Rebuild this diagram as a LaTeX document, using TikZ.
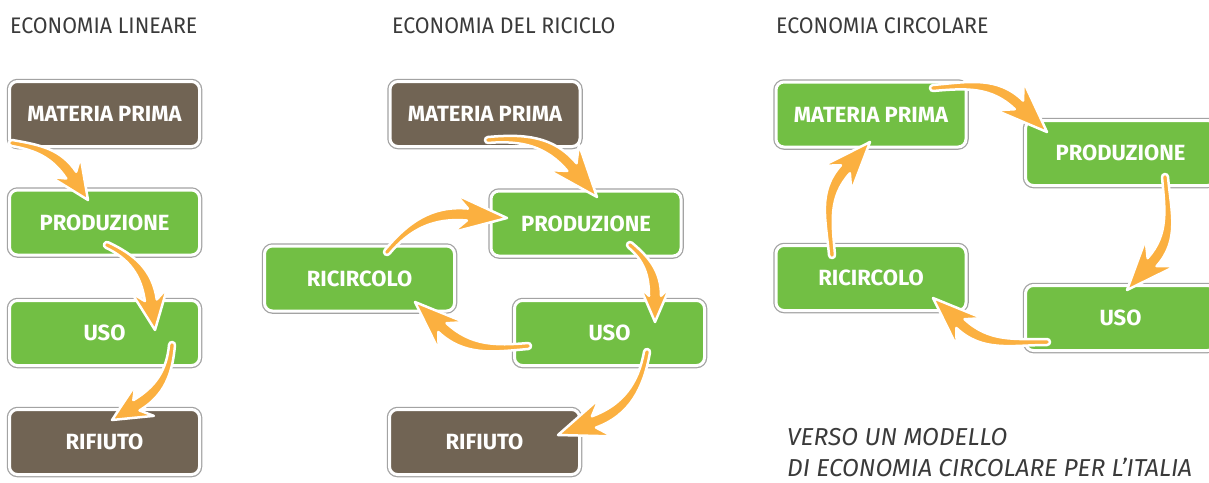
\documentclass[tikz,border=0pt]{standalone}
\usepackage{fontspec}
\setmainfont{Fira Sans}
\newfontfamily\condfont[FakeStretch=0.95]{Fira Sans}
\usetikzlibrary{calc}

\definecolor{mudbrown}{HTML}{716454}
\definecolor{leafgreen}{HTML}{72BF44}
\definecolor{flowamber}{HTML}{FBB040}
\definecolor{rimgray}{HTML}{A3A3A3}
\definecolor{inkgray}{HTML}{3A3A3A}

\tikzset{
  stage/.style={rectangle, rounded corners=8pt, minimum width=190pt, minimum height=65pt,
    draw=white, line width=3pt, text=white, inner sep=0pt,
    font=\bfseries\fontsize{22}{26}\selectfont,
    preaction={draw=rimgray, line width=5.5pt}},
  rawstage/.style={stage, fill=mudbrown},
  usestage/.style={stage, fill=leafgreen},
  heading/.style={anchor=base west, inner sep=0pt, text=inkgray, font=\condfont\fontsize{22.5}{26}\selectfont},
  note/.style={anchor=base west, inner sep=0pt, text=inkgray, font=\itshape\fontsize{24.5}{30}\selectfont},
  flowline/.style={fill=flowamber, draw=white, line width=2.5pt, line join=round}
}

% tapered arrow: start node, offset, end node, offset, out, in, head length, head half width
\newcommand{\flowarrow}[8]{%
  \coordinate (fs) at ($(#1)+(#2)$);
  \coordinate (ft) at ($(#3)+(#4)$);
  \coordinate (fb) at ($(ft)+(#6:0.75*#7)$);
  \path[flowline] ($(fs)+(#5+90:3)$) to[out=#5,in=#6] ($(fb)+(#6-90:6)$)
    -- ($(ft)+(#6:#7)+(#6-90:#8)$) -- (ft)
    -- ($(ft)+(#6:#7)+(#6+90:#8)$) -- ($(fb)+(#6+90:6)$)
    to[out=#6,in=#5] ($(fs)+(#5-90:3)$)
    arc[start angle=#5-90, delta angle=-180, radius=3] -- cycle;}

\begin{document}
\begin{tikzpicture}[x=1pt,y=1pt]
\useasboundingbox (0,0) rectangle (1209,-482);

% headings
\node[heading] (hlin) at (10,-33) {ECONOMIA LINEARE};
\node[heading] (hric) at (392,-33) {ECONOMIA DEL RICICLO};
\node[heading] (hcir) at (776,-33) {ECONOMIA CIRCOLARE};

% linear economy
\node[rawstage] (l1) at (104.5,-114) {MATERIA PRIMA};
\node[usestage] (l2) at (104.5,-222.5) {PRODUZIONE};
\node[usestage] (l3) at (104.5,-333) {USO};
\node[rawstage] (l4) at (104.5,-442) {RIFIUTO};

% recycling economy
\node[rawstage] (r1) at (485,-114) {MATERIA PRIMA};
\node[usestage] (r2) at (586,-223.5) {PRODUZIONE};
\node[usestage] (rr) at (359.5,-278.5) {RICIRCOLO};
\node[usestage] (r3) at (609.5,-333) {USO};
\node[rawstage] (r4) at (484.5,-442) {RIFIUTO};

% circular economy
\node[usestage] (c1) at (871,-114.5) {MATERIA PRIMA};
\node[usestage] (c2) at (1120.5,-153) {PRODUZIONE};
\node[usestage] (cr) at (871,-278) {RICIRCOLO};
\node[usestage] (c3) at (1120.5,-318) {USO};

\node[note] (n1) at (787,-445) {VERSO UN MODELLO};
\node[note] (n2) at (787,-476) {DI ECONOMIA CIRCOLARE PER L’ITALIA};

% arrows
\flowarrow{l1}{-92.5,-29}{l2}{-16.5,22.5}{-10}{124}{40}{18}
\flowarrow{l2}{2.5,-22.5}{l3}{50.5,3}{-25}{98}{40}{18}
\flowarrow{l3}{67.5,-12}{l4}{7.5,22}{-95}{31}{38}{18}

\flowarrow{r1}{3,-26}{r2}{11,26.5}{5}{130}{52}{20}
\flowarrow{rr}{27.5,26.5}{r2}{-79,5.5}{50}{175}{53}{19}
\flowarrow{r2}{44,-21.5}{r3}{45.5,11}{-40}{90}{35}{15}
\flowarrow{r3}{-81.5,-13}{rr}{55.5,-23.5}{185}{-43}{50}{19}
\flowarrow{r3}{37.5,-19}{r4}{73.5,7}{-100}{20}{51}{20}

\flowarrow{c1}{62,26.5}{c2}{-73.5,21}{5}{136}{52}{20}
\flowarrow{c2}{44.5,-24}{c3}{6.5,28}{-85}{48}{50}{20}
\flowarrow{c3}{-73.5,-24}{cr}{62,-20}{180}{-43}{50}{19}
\flowarrow{cr}{-39,23}{c1}{-1,-27.5}{95}{228}{49}{19}
\end{tikzpicture}
\end{document}
